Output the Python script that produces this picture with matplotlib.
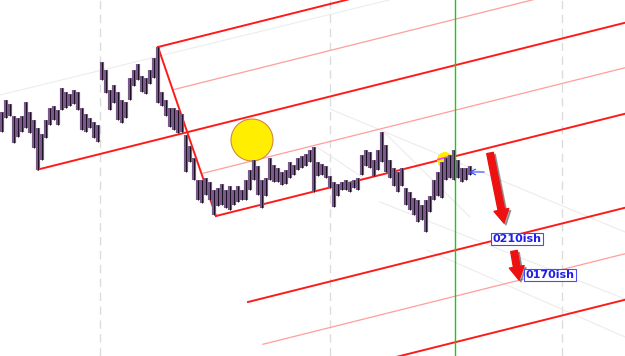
import matplotlib
matplotlib.use('Agg')
import matplotlib.pyplot as plt
from matplotlib.patches import Circle
import numpy as np

# price bars (screen rows, smaller = higher price)
bar_top = [112, 100, 104, 116, 118, 116, 102, 112, 120, 128, 134, 120, 108, 106, 110,
           88, 92, 94, 90, 92, 108, 114, 118, 122, 125, 62, 70, 90, 85, 92,
           100, 102, 78, 70, 64, 76, 78, 70, 58, 47, 92, 100, 108, 108, 110,
           114, 135, 146, 158, 180, 180, 178, 182, 190, 188, 184, 190, 186, 190, 186,
           190, 180, 170, 160, 166, 180, 178, 158, 165, 168, 172, 170, 162, 165, 158,
           156, 154, 150, 147, 162, 164, 166, 176, 182, 184, 182, 180, 182, 180, 178,
           155, 150, 152, 160, 150, 132, 145, 160, 168, 172, 168, 188, 192, 198, 200,
           205, 200, 196, 180, 172, 162, 158, 155, 150, 160, 168, 168, 166]
bar_bottom = [132, 118, 116, 143, 137, 132, 128, 133, 148, 170, 160, 138, 125, 120, 125,
              110, 108, 106, 104, 110, 130, 132, 128, 138, 142, 80, 93, 110, 103, 120,
              123, 118, 100, 86, 80, 92, 94, 84, 78, 103, 106, 116, 127, 130, 133,
              132, 172, 162, 180, 200, 203, 195, 200, 215, 206, 205, 208, 210, 205, 202,
              200, 200, 190, 180, 195, 208, 196, 180, 182, 182, 185, 184, 178, 175, 170,
              168, 166, 162, 192, 176, 175, 178, 188, 207, 196, 190, 190, 192, 188, 190,
              175, 166, 168, 176, 170, 162, 172, 178, 186, 192, 186, 205, 210, 215, 222,
              220, 232, 212, 200, 196, 198, 180, 178, 180, 178, 182, 180, 175]
bar_x = np.arange(len(bar_top)) * 4 + 2

# pitchfork parallels: level at x=0, where each one starts, bright or pale
fork_level = [86.5, 133, 179, 224, 270, 364, 410, 456]
fork_start = [158, 173, 38, 203, 216, 248, 263, 380]
fork_bright = [True, False, True, False, True, True, False, True]
fork_slope = -0.25
handle_x = [158, 216]
handle_y = [47, 216]

# faint helper lines (x0, y0, x1, y1)
faint = [(0, 95, 389, 0), (330, 109, 625, 232), (380, 202, 625, 299),
         (427, 250, 625, 337), (385, 133, 470, 217), (317, 147, 362, 177)]

grid_x = [100, 330, 562]
cursor_x = 455

fig = plt.figure(figsize=(6.25, 3.56), dpi=100)
ax = fig.add_axes([0, 0, 1, 1])
ax.set_xlim(0, 625)
ax.set_ylim(356, 0)
ax.axis('off')

for gx in grid_x:
    ax.axvline(gx, color='#dcdcdc', lw=1, ls=(0, (6, 4)), zorder=0)

for x0, y0, x1, y1 in faint:
    ax.plot([x0, x1], [y0, y1], color='#ececec', lw=0.8, zorder=1)

for lvl, st, br in zip(fork_level, fork_start, fork_bright):
    xs = np.array([st, 640])
    ax.plot(xs, lvl + fork_slope * xs, color='#ff1a1a' if br else '#ff9e9e',
            lw=1.4 if br else 0.9, zorder=2)
ax.plot(handle_x, handle_y, color='#ff1a1a', lw=1.4, zorder=2)

# yellow markers
ax.add_patch(Circle((252, 140), 21, fc='#ffee00', ec='#d08a40', lw=0.8, zorder=3))
ax.add_patch(Circle((445, 160), 8, fc='#ffee00', ec='none', zorder=3))
ax.plot([438, 455], [159.5, 155.2], color='#ff33ff', lw=1.2, zorder=3)

# bars
ax.vlines(bar_x, bar_top, bar_bottom, color='#7a5a8a', lw=3.0, zorder=4)
ax.vlines(bar_x, bar_top, bar_bottom, color='#1a0f1f', lw=0.7, zorder=4)

ax.axvline(cursor_x, color='#19c819', lw=1.0, zorder=5)

# arrows to targets
for (xa, ya), (xb, yb) in [((490, 153), (504, 223)), ((514, 251), (519, 280))]:
    for dx, col, al in [(2, '#444444', 0.45), (0, '#ee1111', 1.0)]:
        ax.annotate('', xy=(xb + dx, yb + dx), xytext=(xa + dx, ya + dx),
                    arrowprops=dict(arrowstyle='simple,head_length=0.8,head_width=0.9,tail_width=0.4',
                                    color=col, alpha=al, mutation_scale=12,
                                    shrinkA=0, shrinkB=0), zorder=6)

box = dict(boxstyle='square,pad=0.1', fc='white', ec='#4a4aff', lw=0.8)
ax.text(517, 239, '0210ish', ha='center', va='center', fontsize=8, fontweight='bold',
        color='#1f1fe6', bbox=box, zorder=7)
ax.text(550, 275, '0170ish', ha='center', va='center', fontsize=8, fontweight='bold',
        color='#1f1fe6', bbox=box, zorder=7)

ax.annotate('', xy=(466, 172), xytext=(487, 172),
            arrowprops=dict(arrowstyle='->', color='#3344ff', lw=0.8), zorder=6)

fig.savefig('out.png', dpi=100)
